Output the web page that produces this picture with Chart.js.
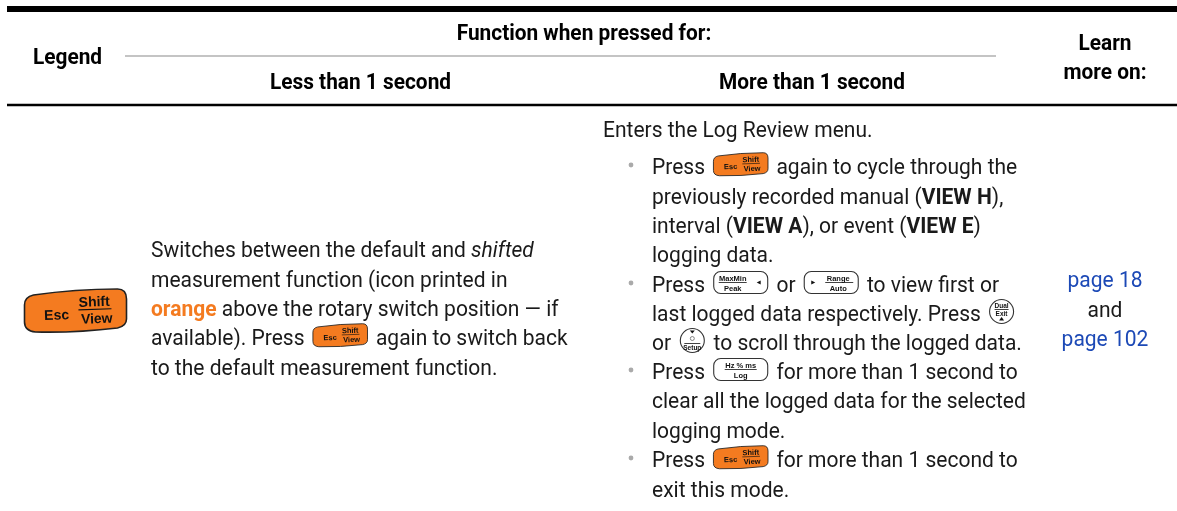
<!DOCTYPE html>
<html>
<head>
<meta charset="utf-8">
<title>Function when pressed for</title>
<script src="https://cdn.jsdelivr.net/npm/chart.js@4/dist/chart.umd.min.js"></script>
<style>
  html, body { margin: 0; padding: 0; background: #fff; }
  canvas { display: block; }
</style>
</head>
<body>
<canvas id="chart" width="1177" height="511"></canvas>
<script>
'use strict';

// Table content. Markup: **bold**, *italic*, ^orange^, {key}
const headerTop = 'Function when pressed for:';
const headerLegend = 'Legend';
const headerShort = 'Less than 1 second';
const headerLong = 'More than 1 second';
const headerLearn = ['Learn', 'more on:'];
const shortLines = [
  'Switches between the default and *shifted*',
  'measurement function (icon printed in',
  '^orange^ above the rotary switch position — if',
  'available). Press {esc} again to switch back',
  'to the default measurement function.'
];
const longIntro = 'Enters the Log Review menu.';
const longLines = [
  '- Press {esc} again to cycle through the',
  'previously recorded manual (**VIEW H**),',
  'interval (**VIEW A**), or event (**VIEW E**)',
  'logging data.',
  '- Press {maxmin} or {range} to view first or',
  'last logged data respectively. Press {dual}',
  'or {setup} to scroll through the logged data.',
  '- Press {hz} for more than 1 second to',
  'clear all the logged data for the selected',
  'logging mode.',
  '- Press {esc} for more than 1 second to',
  'exit this mode.'
];
const learnLines = ['page 18', 'and', 'page 102'];

// Table rules
const heavyRuleX = [7, 1177];
const heavyRuleY = [9, 9];
const headRuleX = [7, 1177];
const headRuleY = [105, 105];
const thinRuleX = [125, 996];
const thinRuleY = [56, 56];

// Layout
const FONT = 'Roboto, "Liberation Sans", sans-serif';
const SQUEEZE = 0.955;
const HEAD_SQUEEZE = 0.97;
const BODY_SIZE = 22;
const HEAD_SIZE = 21.5;
const INK = '#1a1a1a';
const ORANGE = '#f47b20';
const BLUE = '#1c49b6';
const shortBaselines = [257, 287, 316, 345, 375];
const longBaselines = [174, 204, 233, 262, 292, 321, 350, 379, 408, 438, 467, 497];
const learnBaselines = [287, 317, 346];
const keyWidths = { esc: 55, maxmin: 55, range: 55, hz: 55, dual: 25, setup: 26 };

function setFont(ctx, style, size) {
  const weight = style === 'bold' ? 'bold ' : '';
  const slant = style === 'italic' ? 'italic ' : '';
  ctx.font = slant + weight + size + 'px ' + FONT;
}

// squeezed text, since the installed fonts have no condensed cut
function putText(ctx, text, x, y, style, color, size, squeeze) {
  setFont(ctx, style, size);
  ctx.fillStyle = color;
  ctx.save();
  ctx.translate(x, y);
  ctx.scale(squeeze, 1);
  ctx.fillText(text, 0, 0);
  ctx.restore();
  return ctx.measureText(text).width * squeeze;
}

function putCentered(ctx, text, cx, y, style, color, size, squeeze) {
  setFont(ctx, style, size);
  const w = ctx.measureText(text).width * squeeze;
  putText(ctx, text, cx - w / 2, y, style, color, size, squeeze);
}

function keyLabel(ctx, text, cx, y, size) {
  ctx.font = 'bold ' + size + 'px "Liberation Sans", sans-serif';
  ctx.fillStyle = '#111';
  ctx.textAlign = 'center';
  ctx.fillText(text, cx, y);
  ctx.textAlign = 'left';
}

function divider(ctx, x0, y0, x1, y1, width) {
  ctx.strokeStyle = '#111';
  ctx.lineWidth = width;
  ctx.beginPath();
  ctx.moveTo(x0, y0);
  ctx.lineTo(x1, y1);
  ctx.stroke();
}

function drawEscKey(ctx, cx, cy, scale) {
  ctx.save();
  ctx.translate(cx, cy);
  ctx.scale(scale, scale);
  ctx.beginPath();
  ctx.moveTo(-42, -16);
  ctx.quadraticCurveTo(0, -22, 42, -22);
  ctx.quadraticCurveTo(51, -22, 51, -12);
  ctx.lineTo(51, 8);
  ctx.quadraticCurveTo(51, 15, 42, 17);
  ctx.quadraticCurveTo(0, 22, -40, 21);
  ctx.quadraticCurveTo(-51, 20, -51, 11);
  ctx.lineTo(-51, -6);
  ctx.quadraticCurveTo(-51, -14, -42, -16);
  ctx.closePath();
  ctx.fillStyle = ORANGE;
  ctx.fill();
  ctx.strokeStyle = '#222';
  ctx.lineWidth = 1.6;
  ctx.stroke();
  ctx.rotate(-2 * Math.PI / 180);
  keyLabel(ctx, 'Esc', -19, 8, 14);
  keyLabel(ctx, 'Shift', 19, -4, 14);
  keyLabel(ctx, 'View', 21, 13, 14);
  divider(ctx, 3, -1, 36, -1, 1.2);
  ctx.restore();
}

function outlineKey(ctx, cx, cy) {
  ctx.strokeStyle = '#333';
  ctx.lineWidth = 1.1;
  ctx.beginPath();
  ctx.roundRect(cx - 27, cy - 11, 54, 22, 7);
  ctx.stroke();
}

function triangle(ctx, x0, y0, x1, y1, x2, y2) {
  ctx.fillStyle = '#111';
  ctx.beginPath();
  ctx.moveTo(x0, y0);
  ctx.lineTo(x1, y1);
  ctx.lineTo(x2, y2);
  ctx.closePath();
  ctx.fill();
}

function drawKey(ctx, name, cx, cy) {
  if (name === 'esc') {
    drawEscKey(ctx, cx, cy, 0.535);
  } else if (name === 'maxmin') {
    outlineKey(ctx, cx, cy);
    keyLabel(ctx, 'MaxMin', cx - 8, cy - 2, 7.5);
    divider(ctx, cx - 22, cy, cx + 6, cy, 0.8);
    keyLabel(ctx, 'Peak', cx - 8, cy + 8, 7.5);
    triangle(ctx, cx + 16, cy, cx + 20, cy - 2, cx + 20, cy + 2);
  } else if (name === 'range') {
    outlineKey(ctx, cx, cy);
    keyLabel(ctx, 'Range', cx + 7, cy - 2, 7.5);
    divider(ctx, cx - 6, cy, cx + 22, cy, 0.8);
    keyLabel(ctx, 'Auto', cx + 7, cy + 8, 7.5);
    triangle(ctx, cx - 16, cy, cx - 20, cy - 2, cx - 20, cy + 2);
  } else if (name === 'hz') {
    outlineKey(ctx, cx, cy);
    keyLabel(ctx, 'Hz % ms', cx, cy - 2, 7.5);
    divider(ctx, cx - 16, cy, cx + 16, cy, 0.8);
    keyLabel(ctx, 'Log', cx, cy + 8, 7.5);
  } else {
    ctx.strokeStyle = '#333';
    ctx.lineWidth = 1.1;
    ctx.beginPath();
    ctx.arc(cx, cy, 12, 0, Math.PI * 2);
    ctx.stroke();
    if (name === 'dual') {
      keyLabel(ctx, 'Dual', cx, cy - 4, 6.5);
      divider(ctx, cx - 7, cy - 2, cx + 7, cy - 2, 0.8);
      keyLabel(ctx, 'Exit', cx, cy + 4, 6.5);
      triangle(ctx, cx, cy + 5.5, cx - 2.5, cy + 9, cx + 2.5, cy + 9);
    } else {
      triangle(ctx, cx, cy - 7, cx - 2.5, cy - 10, cx + 2.5, cy - 10);
      ctx.strokeStyle = '#555';
      ctx.lineWidth = 0.7;
      ctx.beginPath();
      ctx.arc(cx, cy - 2, 2, 0, Math.PI * 2);
      ctx.stroke();
      divider(ctx, cx - 8, cy + 3, cx + 8, cy + 3, 0.8);
      keyLabel(ctx, 'Setup', cx, cy + 9.5, 6.5);
    }
  }
}

// flows one marked-up line from x, keys take their width in the flow
function putLine(ctx, line, x, y) {
  const parts = line.split(/(\*\*[^*]+\*\*|\*[^*]+\*|\^[^^]+\^|\{[a-z]+\})/);
  let pen = x;
  parts.forEach(part => {
    if (!part) return;
    if (part.startsWith('{')) {
      const name = part.slice(1, -1);
      const w = keyWidths[name];
      drawKey(ctx, name, pen + 3 + w / 2, y - 9.5);
      pen += w + 6;
    } else if (part.startsWith('**')) {
      pen += putText(ctx, part.slice(2, -2), pen, y, 'bold', INK, BODY_SIZE, SQUEEZE);
    } else if (part.startsWith('*')) {
      pen += putText(ctx, part.slice(1, -1), pen, y, 'italic', INK, BODY_SIZE, SQUEEZE);
    } else if (part.startsWith('^')) {
      pen += putText(ctx, part.slice(1, -1), pen, y, 'bold', ORANGE, BODY_SIZE, SQUEEZE);
    } else {
      pen += putText(ctx, part, pen, y, 'normal', INK, BODY_SIZE, SQUEEZE);
    }
  });
}

const tablePlugin = {
  id: 'tableText',
  afterDraw(chart) {
    const ctx = chart.ctx;
    const px = v => chart.scales.x.getPixelForValue(v);
    const py = v => chart.scales.y.getPixelForValue(v);
    ctx.save();
    ctx.textBaseline = 'alphabetic';

    putCentered(ctx, headerTop, px(584), py(40), 'bold', '#000', HEAD_SIZE, HEAD_SQUEEZE);
    putCentered(ctx, headerLegend, px(67.5), py(64), 'bold', '#000', HEAD_SIZE, HEAD_SQUEEZE);
    putCentered(ctx, headerShort, px(360.5), py(89), 'bold', '#000', HEAD_SIZE, HEAD_SQUEEZE);
    putCentered(ctx, headerLong, px(812), py(89), 'bold', '#000', HEAD_SIZE, HEAD_SQUEEZE);
    putCentered(ctx, headerLearn[0], px(1105), py(50), 'bold', '#000', HEAD_SIZE, HEAD_SQUEEZE);
    putCentered(ctx, headerLearn[1], px(1105), py(79), 'bold', '#000', HEAD_SIZE, HEAD_SQUEEZE);

    drawEscKey(ctx, px(75.5), py(311), 1);

    shortLines.forEach((line, i) => putLine(ctx, line, px(151), py(shortBaselines[i])));

    putLine(ctx, longIntro, px(603), py(137));
    longLines.forEach((line, i) => {
      const y = py(longBaselines[i]);
      if (line.startsWith('- ')) {
        ctx.fillStyle = '#aaa';
        ctx.beginPath();
        ctx.arc(px(631), y - 9, 2.4, 0, Math.PI * 2);
        ctx.fill();
        putLine(ctx, line.slice(2), px(652), y);
      } else {
        putLine(ctx, line, px(652), y);
      }
    });

    learnLines.forEach((line, i) => {
      const color = line === 'and' ? INK : BLUE;
      putCentered(ctx, line, px(1105), py(learnBaselines[i]), 'normal', color, BODY_SIZE, SQUEEZE);
    });
    ctx.restore();
  }
};

const toPoints = (xs, ys) => xs.map((x, i) => ({ x: x, y: ys[i] }));

function ruleDataset(xs, ys, color, width) {
  return {
    data: toPoints(xs, ys),
    showLine: true,
    borderColor: color,
    borderWidth: width,
    pointRadius: 0
  };
}

let canvasElem = document.getElementById('chart');
let myChart = new Chart(canvasElem, {
  type: 'scatter',
  data: {
    datasets: [
      ruleDataset(heavyRuleX, heavyRuleY, '#000', 6),
      ruleDataset(headRuleX, headRuleY, '#000', 2.5),
      ruleDataset(thinRuleX, thinRuleY, '#b0b0b0', 1.5)
    ]
  },
  plugins: [tablePlugin],
  options: {
    responsive: false,
    animation: false,
    layout: { padding: 0 },
    plugins: { legend: { display: false }, tooltip: { enabled: false } },
    scales: {
      x: { type: 'linear', display: false, min: 0, max: 1177 },
      y: { type: 'linear', display: false, min: 0, max: 511, reverse: true }
    }
  }
});
</script>
</body>
</html>
